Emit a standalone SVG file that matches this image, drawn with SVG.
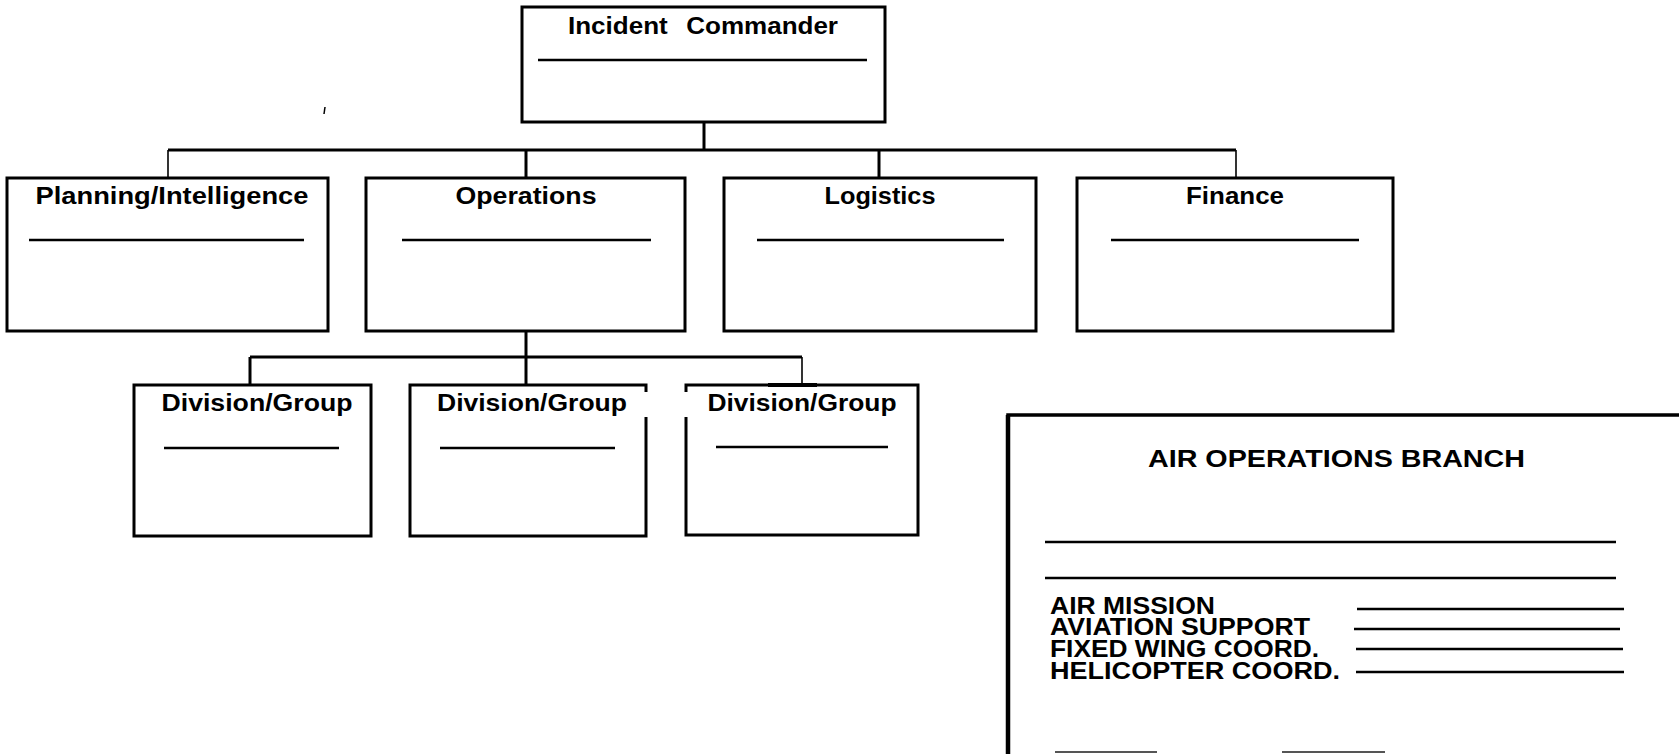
<svg xmlns="http://www.w3.org/2000/svg" width="1679" height="754" viewBox="0 0 1679 754">
<style>
.box{fill:#fff;stroke:#000;stroke-width:3}
.open{fill:none;stroke:#000;stroke-width:3}
.rule{stroke:#000;stroke-width:2.5}
.conn{stroke:#000;stroke-width:3;fill:none}
.thin{stroke:#000;stroke-width:1.6;fill:none}
.t{font-family:"Liberation Sans",Arial,sans-serif;font-weight:bold;font-size:23px;fill:#000}
.big{font-size:23px}
.lst{font-size:23.5px}
</style>
<rect width="1679" height="754" fill="#fff"/>
<g id="connectors">
<line class="conn" x1="704" y1="122" x2="704" y2="150"/>
<line class="conn" x1="168" y1="150" x2="1236" y2="150"/>
<line class="thin" x1="168" y1="150" x2="168" y2="178"/>
<line class="conn" x1="526" y1="150" x2="526" y2="178"/>
<line class="conn" x1="879" y1="150" x2="879" y2="178"/>
<line class="thin" x1="1236" y1="150" x2="1236" y2="178"/>
<line class="conn" x1="526" y1="331" x2="526" y2="385"/>
<line class="conn" x1="250" y1="357" x2="802" y2="357"/>
<line class="conn" x1="250" y1="357" x2="250" y2="385"/>
<line class="thin" x1="802" y1="357" x2="802" y2="385"/>
</g>
<g id="incident-commander">
<rect class="box" x="522" y="7" width="363" height="115"/>
<text class="t" x="568" y="34" word-spacing="10" textLength="270" lengthAdjust="spacingAndGlyphs">Incident Commander</text>
<line class="rule" x1="538" y1="60" x2="867" y2="60"/>
</g>
<g id="planning">
<rect class="box" x="7" y="178" width="321" height="153"/>
<text class="t" x="172" y="204" text-anchor="middle" textLength="273" lengthAdjust="spacingAndGlyphs">Planning/Intelligence</text>
<line class="rule" x1="29" y1="240" x2="304" y2="240"/>
</g>
<g id="operations">
<rect class="box" x="366" y="178" width="319" height="153"/>
<text class="t" x="526" y="204" text-anchor="middle" textLength="141" lengthAdjust="spacingAndGlyphs">Operations</text>
<line class="rule" x1="402" y1="240" x2="651" y2="240"/>
</g>
<g id="logistics">
<rect class="box" x="724" y="178" width="312" height="153"/>
<text class="t" x="880" y="204" text-anchor="middle" textLength="111" lengthAdjust="spacingAndGlyphs">Logistics</text>
<line class="rule" x1="757" y1="240" x2="1004" y2="240"/>
</g>
<g id="finance">
<rect class="box" x="1077" y="178" width="316" height="153"/>
<text class="t" x="1235" y="204" text-anchor="middle" textLength="98" lengthAdjust="spacingAndGlyphs">Finance</text>
<line class="rule" x1="1111" y1="240" x2="1359" y2="240"/>
</g>
<g id="division-1">
<rect class="box" x="134" y="385" width="237" height="151"/>
<text class="t" x="257" y="411" text-anchor="middle" textLength="191" lengthAdjust="spacingAndGlyphs">Division/Group</text>
<line class="rule" x1="164" y1="448" x2="339" y2="448"/>
</g>
<g id="division-2">
<path class="open" d="M646,392 V385 H410 V536 H646 V417"/>
<text class="t" x="532" y="411" text-anchor="middle" textLength="190" lengthAdjust="spacingAndGlyphs">Division/Group</text>
<line class="rule" x1="440" y1="448" x2="615" y2="448"/>
</g>
<g id="division-3">
<path class="open" d="M686,392 V385 H918 V535 H686 V417"/>
<line x1="768" y1="385" x2="817" y2="385" stroke="#000" stroke-width="4"/>
<text class="t" x="802" y="411" text-anchor="middle" textLength="189" lengthAdjust="spacingAndGlyphs">Division/Group</text>
<line class="rule" x1="716" y1="447" x2="888" y2="447"/>
</g>
<g id="air-operations-branch">
<path d="M1008,754 V415 H1679" fill="none" stroke="#000" stroke-width="3.5"/>
<line x1="1008" y1="415" x2="1008" y2="754" stroke="#000" stroke-width="4.5"/>
<text class="t big" x="1148" y="467" textLength="377" lengthAdjust="spacingAndGlyphs">AIR OPERATIONS BRANCH</text>
<line class="rule" x1="1045" y1="542" x2="1616" y2="542"/>
<line class="rule" x1="1045" y1="578" x2="1616" y2="578"/>
<text class="t lst" x="1050" y="614" textLength="165" lengthAdjust="spacingAndGlyphs">AIR MISSION</text>
<text class="t lst" x="1050" y="635" textLength="260" lengthAdjust="spacingAndGlyphs">AVIATION SUPPORT</text>
<text class="t lst" x="1050" y="657" textLength="269" lengthAdjust="spacingAndGlyphs">FIXED WING COORD.</text>
<text class="t lst" x="1050" y="679" textLength="290" lengthAdjust="spacingAndGlyphs">HELICOPTER COORD.</text>
<line class="rule" x1="1357" y1="609" x2="1624" y2="609"/>
<line class="rule" x1="1354" y1="629" x2="1620" y2="629"/>
<line class="rule" x1="1356" y1="649" x2="1623" y2="649"/>
<line class="rule" x1="1356" y1="672" x2="1624" y2="672"/>
<line x1="1055" y1="752" x2="1157" y2="752" stroke="#555" stroke-width="2"/>
<line x1="1282" y1="752" x2="1385" y2="752" stroke="#555" stroke-width="2"/>
</g>
<line x1="325" y1="107" x2="324" y2="114" stroke="#000" stroke-width="1.5"/>
</svg>
